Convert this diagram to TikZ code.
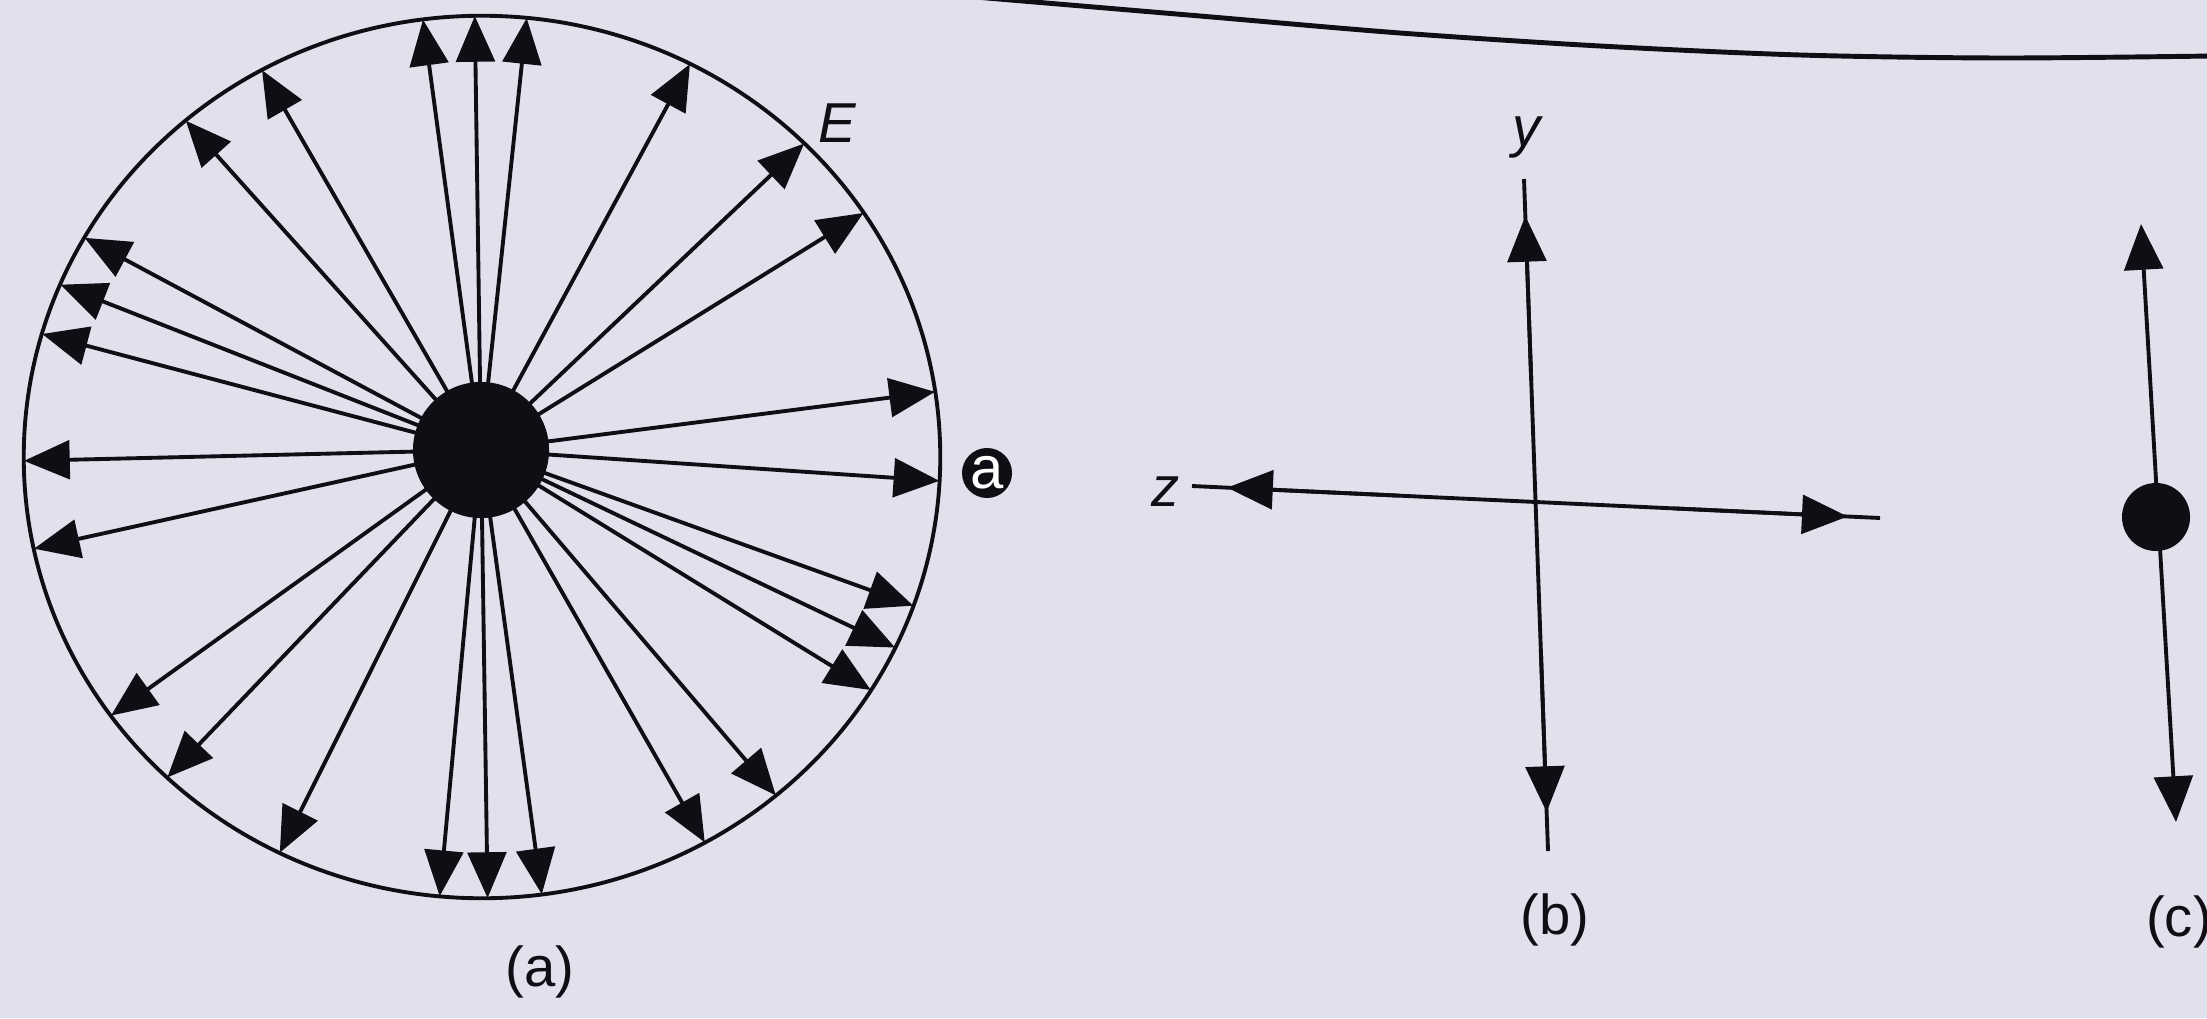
\documentclass[tikz,border=0pt]{standalone}
\usepackage{fontspec}
\setmainfont{Liberation Sans}
\usetikzlibrary{arrows.meta,calc}
\definecolor{paper}{RGB}{225,225,238}
\definecolor{ink}{RGB}{16,13,20}
\begin{document}
\begin{tikzpicture}[x=0.01cm,y=-0.01cm,
  ln/.style={draw=ink,line width=1.1pt},
  tipstyle/.style={-{Triangle[length=13pt,width=11pt]}},
  arr/.style={ln,tipstyle},
  dblarr/.style={ln,{Triangle[length=13pt,width=11pt]}-{Triangle[length=13pt,width=11pt]}},
  lbl/.style={font=\fontsize{16}{19}\selectfont,text=ink,inner sep=0pt},
  blob/.style={circle,fill=ink,inner sep=0pt}]
\fill[paper] (0,0) rectangle (2207,1018);
\useasboundingbox (0,0) rectangle (2207,1018);

% page edge curve
\draw[ink,line width=1.4pt] plot[smooth] coordinates {(975,-3) (1200,16) (1400,33) (1600,46) (1800,55) (2000,58) (2212,56)};

% ---------- panel (a) ----------
\coordinate (C) at (482,457);
\coordinate (O) at (481,450);
\draw[ln] (C) ellipse [x radius=4.58cm, y radius=4.41cm];
\foreach \t [count=\i] in {97.4,90.9,84.4,118.7,130.3,150.2,157.0,163.8,180.5,192.0,
  215.9,226.6,243.8,264.7,270.7,277.5,299.1,309.9,328.1,334.4,340.3,356.9,8.5,33.6,45.3,63.0}
{
  \coordinate (tip\i) at ($(C)+({458*cos(\t)},{-441*sin(\t)})$);
  \draw[arr] (O) -- (tip\i);
}
\node[blob,minimum size=1.36cm] (dotA) at (O) {};
\node[lbl] (labE) at (838,123) {\textit{E}};
\node[circle,fill=ink,inner sep=0pt,minimum size=0.5cm,text=white,
      font=\fontsize{17}{17}\selectfont] (circA) at (987,473) {a};
\node[lbl] (labA) at (540,972) {(a)};

% ---------- panel (b) ----------
\coordinate (yT) at (1524,179);
\coordinate (yB) at (1548,851);
\coordinate (zL) at (1192,486);
\coordinate (zR) at (1880,518);
\draw[ln] (yT) -- (yB);
\draw[ln] (zL) -- (zR);
\draw[arr] ($(yT)!0.3!(yB)$) -- ($(yT)!0.055!(yB)$);
\draw[arr] ($(yT)!0.7!(yB)$) -- ($(yT)!0.942!(yB)$);
\draw[arr] ($(zL)!0.3!(zR)$) -- ($(zL)!0.051!(zR)$);
\draw[arr] ($(zL)!0.7!(zR)$) -- ($(zL)!0.953!(zR)$);
\node[lbl] (laby) at (1528,137) {\textit{y}};
\node[lbl] (labz) at (1166,492) {\textit{z}};
\node[lbl] (labB) at (1555,920) {(b)};

% ---------- panel (c) ----------
\coordinate (cT) at (2141,224);
\coordinate (cB) at (2176,822);
\draw[dblarr] (cT) -- (cB);
\node[blob,minimum size=0.68cm] (dotC) at (2156,517) {};
\node[lbl] (labC) at (2179,922) {(c)};
\end{tikzpicture}
\end{document}
